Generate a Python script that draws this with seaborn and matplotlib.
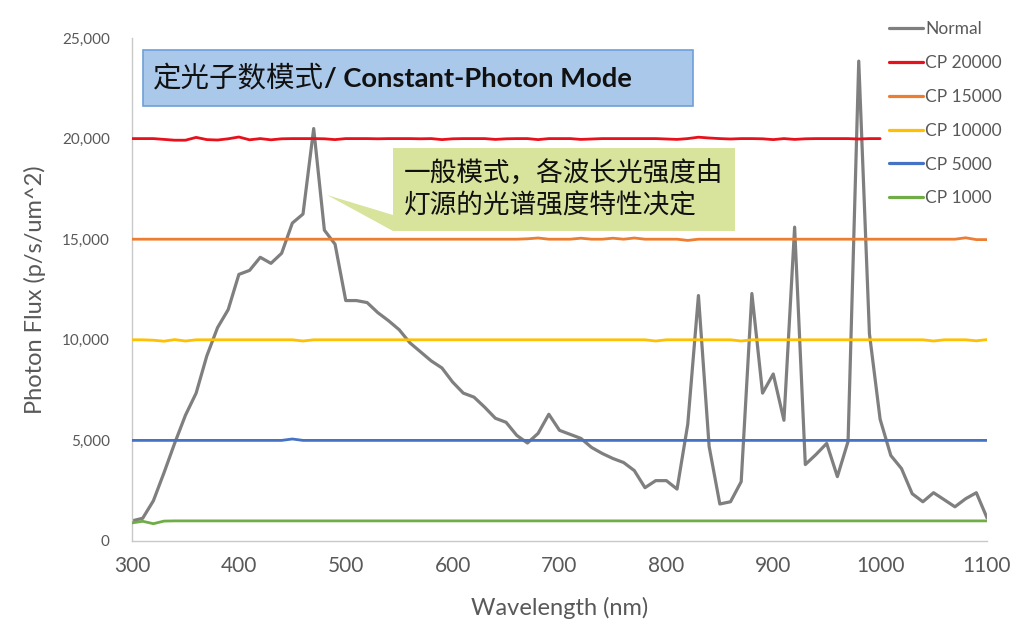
import numpy as np
import pandas as pd
import matplotlib
matplotlib.use("Agg")
import matplotlib.pyplot as plt
from matplotlib.patches import Rectangle, Polygon
from matplotlib.lines import Line2D
import seaborn as sns

# ---------------- data ----------------
wavelength = [300, 310, 320, 330, 340, 350, 360, 370, 380, 390,
              400, 410, 420, 430, 440, 450, 460, 470, 480, 490,
              500, 510, 520, 530, 540, 550, 560, 570, 580, 590,
              600, 610, 620, 630, 640, 650, 660, 670, 680, 690,
              700, 710, 720, 730, 740, 750, 760, 770, 780, 790,
              800, 810, 820, 830, 840, 850, 860, 870, 880, 890,
              900, 910, 920, 930, 940, 950, 960, 970, 980, 990,
              1000, 1010, 1020, 1030, 1040, 1050, 1060, 1070, 1080, 1090,
              1100]

normal = [1000, 1130, 2000, 3400, 4870, 6250, 7350, 9200, 10600, 11500,
          13250, 13450, 14100, 13800, 14300, 15800, 16250, 20500, 15450, 14750,
          11950, 11950, 11850, 11350, 10950, 10500, 9850, 9400, 8950, 8600,
          7900, 7350, 7150, 6650, 6100, 5900, 5250, 4870, 5350, 6300,
          5500, 5300, 5100, 4650, 4350, 4100, 3900, 3500, 2650, 3000,
          3000, 2580, 5800, 12200, 4700, 1840, 1950, 2950, 12300, 7350,
          8300, 6000, 15600, 3800, 4300, 4850, 3200, 4950, 23850, 10300,
          6050, 4250, 3600, 2350, 1950, 2400, 2050, 1700, 2100, 2400,
          1150]

# CP 20000 is only recorded up to 1000 nm
cp20000 = [20000, 20000, 20000, 19960, 19920, 19920, 20060, 19950, 19930, 19990,
           20080, 19940, 20000, 19940, 19990, 20000, 20000, 20000, 19990, 19950,
           20000, 20000, 20000, 19990, 20000, 20000, 20000, 19990, 20000, 19950,
           19990, 20000, 20000, 20000, 19960, 19990, 20000, 20000, 19950, 20000,
           20000, 20000, 19960, 19980, 20000, 20000, 20000, 20000, 20000, 20000,
           19980, 19960, 20000, 20070, 20030, 20000, 19980, 20000, 20000, 19990,
           19950, 20000, 19960, 19990, 20000, 20000, 20000, 20000, 19980, 20000,
           20000]

cp15000 = [15000, 15000, 15000, 15000, 15000, 15000, 15000, 15000, 15000, 15000,
           15000, 15000, 15000, 15000, 15000, 15000, 15000, 15000, 15000, 15000,
           15000, 15000, 15000, 15000, 15000, 15000, 15000, 15000, 15000, 15000,
           15000, 15000, 15000, 15000, 15000, 15000, 15000, 15020, 15060, 15000,
           15000, 15000, 15050, 15000, 15000, 15050, 15000, 15060, 15000, 15000,
           15000, 15000, 14940, 15000, 15000, 15000, 15000, 15000, 15000, 15000,
           15000, 15000, 15000, 15000, 15000, 15000, 15000, 15000, 15000, 15000,
           15000, 15000, 15000, 15000, 15000, 15000, 15000, 15000, 15070, 14980,
           14980]

cp10000 = [10000, 10000, 9980, 9930, 10010, 9940, 10000, 10000, 10000, 10000,
           10000, 10000, 10000, 10000, 10000, 10000, 9940, 10000, 10000, 10000,
           10000, 10000, 10000, 10000, 10000, 10000, 10000, 10000, 10000, 10000,
           10000, 10000, 10000, 10000, 10000, 10000, 10000, 10000, 10000, 10000,
           10000, 10000, 10000, 10000, 10000, 10000, 10000, 10000, 10000, 9940,
           10000, 10000, 10000, 10000, 10000, 10000, 10000, 9940, 10000, 10000,
           10000, 10000, 10000, 10000, 10000, 10000, 10000, 10000, 10000, 10000,
           10000, 10000, 10000, 10000, 10000, 9940, 10000, 10000, 10000, 9950,
           10010]

cp5000 = [5000, 5000, 5000, 5000, 5000, 5000, 5000, 5000, 5000, 5000,
          5000, 5000, 5000, 5000, 5000, 5070, 5000, 5000, 5000, 5000,
          5000, 5000, 5000, 5000, 5000, 5000, 5000, 5000, 5000, 5000,
          5000, 5000, 5000, 5000, 5000, 5000, 5000, 5000, 5000, 5000,
          5000, 5000, 5000, 5000, 5000, 5000, 5000, 5000, 5000, 5000,
          5000, 5000, 5000, 5000, 5000, 5000, 5000, 5000, 5000, 5000,
          5000, 5000, 5000, 5000, 5000, 5000, 5000, 5000, 5000, 5000,
          5000, 5000, 5000, 5000, 5000, 5000, 5000, 5000, 5000, 5000,
          5000]

cp1000 = [900, 980, 860, 990, 1000, 1000, 1000, 1000, 1000, 1000,
          1000, 1000, 1000, 1000, 1000, 1000, 1000, 1000, 1000, 1000,
          1000, 1000, 1000, 1000, 1000, 1000, 1000, 1000, 1000, 1000,
          1000, 1000, 1000, 1000, 1000, 1000, 1000, 1000, 1000, 1000,
          1000, 1000, 1000, 1000, 1000, 1000, 1000, 1000, 1000, 1000,
          1000, 1000, 1000, 1000, 1000, 1000, 1000, 1000, 1000, 1000,
          1000, 1000, 1000, 1000, 1000, 1000, 1000, 1000, 1000, 1000,
          1000, 1000, 1000, 1000, 1000, 1000, 1000, 1000, 1000, 1000,
          1000]

series_names = ["Normal", "CP 20000", "CP 15000", "CP 10000", "CP 5000", "CP 1000"]
series_values = [normal, cp20000, cp15000, cp10000, cp5000, cp1000]
series_colors = ["#7f7f7f", "#e8101a", "#ed7d31", "#ffc000", "#4472c4", "#70ad47"]

x_ticks = [300, 400, 500, 600, 700, 800, 900, 1000, 1100]
y_ticks = [0, 5000, 10000, 15000, 20000, 25000]
y_tick_labels = ["0", "5,000", "10,000", "15,000", "20,000", "25,000"]

title_cn = "定光子数模式"
title_en = "/ Constant-Photon Mode"
note_text = "一般模式，各波长光强度由\n灯源的光谱强度特性决定"
x_label = "Wavelength (nm)"
y_label = "Photon Flux (p/s/um^2)"

# ---------------- long-form table ----------------
frames = []
for name, vals in zip(series_names, series_values):
    frames.append(pd.DataFrame({"wavelength": wavelength[:len(vals)],
                                "flux": vals, "series": name}))
df = pd.concat(frames, ignore_index=True)

# ---------------- style ----------------
sns.set_theme(style="white")
plt.rcParams["font.family"] = ["Lato", "Noto Sans CJK SC", "DejaVu Sans"]
TXT = "#595959"

W, H = 1024, 634
fig = plt.figure(figsize=(W / 100, H / 100), dpi=100)
L, R, T, B = 132, 987, 38, 541
ax = fig.add_axes([L / W, 1 - B / H, (R - L) / W, (B - T) / H])

def fx(px):
    return px / W

def fy(py):
    return 1 - py / H

palette = dict(zip(series_names, series_colors))
for i, name in enumerate(series_names):
    sub = df[df["series"] == name]
    sns.lineplot(data=sub, x="wavelength", y="flux", ax=ax,
                 color=palette[name], linewidth=2.3 if name == "Normal" else 2.0,
                 zorder=2 + i, legend=False, estimator=None, sort=False)

ax.set_xlim(300, 1100)
ax.set_ylim(0, 25000)
ax.set_xticks(x_ticks)
ax.set_xticklabels([str(v) for v in x_ticks])
ax.set_yticks(y_ticks)
ax.set_yticklabels(y_tick_labels)
ax.tick_params(axis="x", length=0, pad=11, labelsize=15, labelcolor=TXT)
ax.tick_params(axis="y", length=0, pad=16, labelsize=11, labelcolor=TXT)
for s in ["top", "right"]:
    ax.spines[s].set_visible(False)
for s in ["left", "bottom"]:
    ax.spines[s].set_color("#c8c8c8")
    ax.spines[s].set_linewidth(1.0)
ax.grid(False)

ax.set_xlabel(x_label, fontsize=17, color=TXT)
ax.set_ylabel(y_label, fontsize=17, color=TXT)
ax.xaxis.set_label_coords(0.5, (B - 608) / (B - T))
ax.xaxis.label.set_va("center")
ax.yaxis.set_label_coords((35 - L) / (R - L), 0.5)
ax.yaxis.label.set_va("center")

# legend
handles = [Line2D([0], [0], color=c, linewidth=2.3) for c in series_colors]
leg = fig.legend(handles, series_names, loc="upper left",
                 bbox_to_anchor=(fx(889), fy(21)), frameon=False,
                 fontsize=12.5, labelcolor=TXT, handlelength=1.95,
                 handletextpad=0.15, labelspacing=1.03, borderpad=0,
                 borderaxespad=0)

# title box
fig.patches.append(Rectangle((fx(143), fy(106)), (693 - 143) / W, (106 - 50) / H,
                             transform=fig.transFigure, facecolor="#a9c8ea",
                             edgecolor="#6f9fd8", linewidth=1.2, zorder=5))
t1 = fig.text(fx(153), fy(79), title_cn, fontsize=20.5, color="#111111",
              va="center", ha="left", family=["Noto Sans CJK SC", "DejaVu Sans"],
              zorder=6)
fig.canvas.draw()
bb = t1.get_window_extent(renderer=fig.canvas.get_renderer())
fig.text(bb.x1 / W, fy(79), title_en, fontsize=19.7, color="#111111",
         fontweight="bold", va="center", ha="left", zorder=6)

# callout
verts = [(393, 148), (735, 148), (735, 231), (393, 231), (327, 195), (393, 215)]
fig.patches.append(Polygon([(fx(a), fy(b)) for a, b in verts], closed=True,
                           transform=fig.transFigure, facecolor="#d8e49c",
                           edgecolor="none", zorder=5))
fig.text(fx(404), fy(190), note_text, fontsize=19.2, color="#111111",
         va="center", ha="left", linespacing=1.22,
         family=["Noto Sans CJK SC", "DejaVu Sans"], zorder=6)

fig.savefig("out.png", dpi=100)
